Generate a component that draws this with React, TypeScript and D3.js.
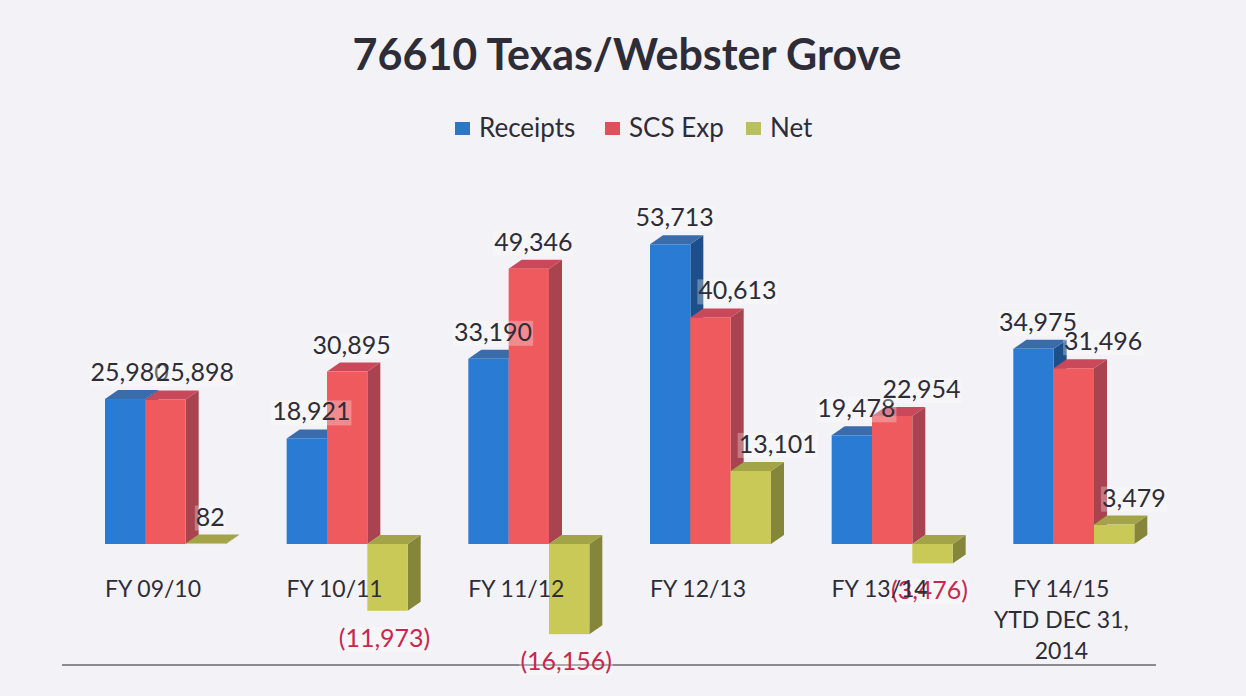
import React, { useRef, useEffect } from "react";
import * as d3 from "d3";

// chart data
const categories = ["FY 09/10", "FY 10/11", "FY 11/12", "FY 12/13", "FY 13/14", "FY 14/15"];
const categoryLines = [
  ["FY 09/10"],
  ["FY 10/11"],
  ["FY 11/12"],
  ["FY 12/13"],
  ["FY 13/14"],
  ["FY 14/15", "YTD DEC 31,", "2014"],
];
const seriesNames = ["Receipts", "SCS Exp", "Net"];
const receipts = [25980, 18921, 33190, 53713, 19478, 34975];
const scsExp = [25898, 30895, 49346, 40613, 22954, 31496];
const net = [82, -11973, -16156, 13101, -3476, 3479];

const front = ["#2a7bd3", "#ee5a5e", "#c9c957"];
const side = ["#1d4f8a", "#a8434f", "#86863a"];
const top = ["#3a6cab", "#c9485a", "#a3a348"];
const legendFill = ["#2a76c8", "#e0505a", "#b9c060"];

const App = () => {
  const ref = useRef<SVGSVGElement | null>(null);
  const width = 1246;
  const height = 696;

  useEffect(() => {
    if (!ref.current) return;
    const svg = d3.select(ref.current);
    svg.selectAll("*").remove();

    const font = "Lato, 'Open Sans', sans-serif";
    const textColor = "#2e2c36";

    svg.append("rect").attr("width", width).attr("height", height).attr("fill", "#f3f3f7");

    // title
    svg.append("text")
      .attr("x", 627)
      .attr("y", 70)
      .attr("text-anchor", "middle")
      .attr("font-family", font)
      .attr("font-weight", "bold")
      .attr("font-size", 43)
      .attr("fill", textColor)
      .text("76610 Texas/Webster Grove");

    // legend
    const legendX = [455, 605, 746];
    seriesNames.forEach((name, i) => {
      svg.append("rect")
        .attr("x", legendX[i])
        .attr("y", 122)
        .attr("width", 15)
        .attr("height", 13)
        .attr("fill", legendFill[i]);
      svg.append("text")
        .attr("x", legendX[i] + 24)
        .attr("y", 137)
        .attr("font-family", font)
        .attr("font-size", 26)
        .attr("fill", textColor)
        .text(name);
    });

    const x = d3.scaleBand().domain(categories).range([81, 1171]);
    const xs = d3.scaleBand().domain(seriesNames).range([0, 121]);
    const clusterOffset = 24;
    const y = d3.scaleLinear().domain([-20000, 60000]).range([655.6, 209.2]);
    const depthX = 13;
    const depthY = 9;

    // bottom rule
    svg.append("line")
      .attr("x1", 62).attr("x2", 1156)
      .attr("y1", 665).attr("y2", 665)
      .attr("stroke", "#8a8a90")
      .attr("stroke-width", 2);

    const series = [receipts, scsExp, net];
    const fmt = d3.format(",");
    const bars = svg.append("g");
    const labels = svg.append("g");

    categories.forEach((cat, ci) => {
      const placed: { x0: number; x1: number; y: number }[] = [];
      seriesNames.forEach((name, si) => {
        const v = series[si][ci];
        const bx = (x(cat) as number) + clusterOffset + (xs(name) as number);
        const bw = xs.bandwidth();
        const yTop = Math.min(y(v), y(0));
        const yBot = Math.max(y(v), y(0));
        const g = bars.append("g");
        g.append("polygon")
          .attr("points", [[bx + bw, yTop], [bx + bw + depthX, yTop - depthY], [bx + bw + depthX, yBot - depthY], [bx + bw, yBot]].map((p) => p.join(",")).join(" "))
          .attr("fill", side[si]);
        g.append("polygon")
          .attr("points", [[bx, yTop], [bx + depthX, yTop - depthY], [bx + bw + depthX, yTop - depthY], [bx + bw, yTop]].map((p) => p.join(",")).join(" "))
          .attr("fill", top[si]);
        g.append("rect")
          .attr("x", bx).attr("y", yTop)
          .attr("width", bw).attr("height", Math.max(yBot - yTop, 0.5))
          .attr("fill", front[si]);

        // data label
        const neg = v < 0;
        const label = neg ? "(" + fmt(-v) + ")" : fmt(v);
        let lx = neg ? bx + bw / 2 - 3 : bx + bw / 2 + depthX / 2 - 2;
        const ly = neg ? yBot + 36 : yTop - depthY - 9;
        const t = labels.append("text")
          .attr("y", ly)
          .attr("text-anchor", "middle")
          .attr("font-family", font)
          .attr("font-size", 25)
          .attr("fill", neg ? "#c8284e" : textColor)
          .text(label);
        const tw = (t.node() as SVGTextElement).getComputedTextLength();
        // keep clear of a taller neighbour bar on the left
        if (!neg && si > 0) {
          const prev = series[si - 1][ci];
          if (prev > v && ly > y(prev) + 20) lx = Math.max(lx, bx + 8 + tw / 2);
        }
        // nudge right when it collides with a label already placed in the group
        placed.forEach((p) => {
          if (Math.abs(p.y - ly) < 22 && lx - tw / 2 < p.x1 - 13) {
            lx = p.x1 - 13 + tw / 2;
          }
        });
        labels.insert("rect", () => t.node())
          .attr("x", lx - tw / 2 - 1)
          .attr("y", ly - 20)
          .attr("width", tw + 2)
          .attr("height", 25)
          .attr("fill", "#ffffff")
          .attr("opacity", 0.3);
        t.attr("x", lx);
        placed.push({ x0: lx - tw / 2, x1: lx + tw / 2, y: ly });
      });

      // category label
      const cx = (x(cat) as number) + clusterOffset + 48;
      categoryLines[ci].forEach((line, li) => {
        svg.append("text")
          .attr("x", cx)
          .attr("y", 597 + li * 31)
          .attr("text-anchor", "middle")
          .attr("font-family", font)
          .attr("font-size", 23)
          .attr("fill", textColor)
          .text(line);
      });
    });
  }, []);

  return (
    <div style={{ position: "absolute", left: 0, top: 0, width: width, height: height }}>
      <svg ref={ref} width={width} height={height} style={{ display: "block" }} />
    </div>
  );
};

export default App;
